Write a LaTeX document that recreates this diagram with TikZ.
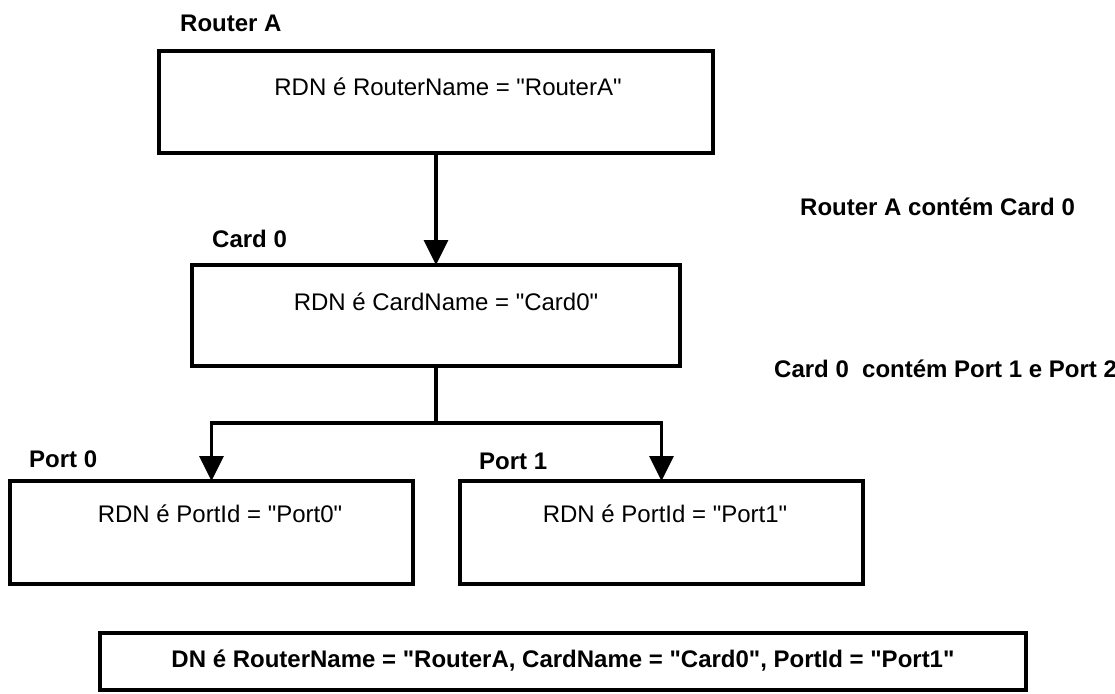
\documentclass[tikz,border=0pt]{standalone}
\usepackage{fontspec}
\setmainfont{Liberation Sans}[Ligatures=TeXOff]
\usetikzlibrary{arrows.meta}
\begin{document}
\begin{tikzpicture}[x=1pt,y=-1pt,
  box/.style={draw=black, line width=3.5pt, line join=miter, rectangle, inner sep=0pt, outer sep=0pt, anchor=north west},
  txt/.style={font=\fontsize{24}{28}\selectfont, inner sep=0pt, anchor=base},
  lbl/.style={font=\fontsize{24}{28}\selectfont\bfseries, inner sep=0pt, anchor=base west},
  line/.style={draw=black, line width=3.5pt, line join=miter},
  conn/.style={line, -{Triangle[width=24pt,length=25pt]}}]
\useasboundingbox (0,0) rectangle (1115,693);
% boxes
\node[box, minimum width=554pt, minimum height=102pt] (ra) at (159,51) {};
\node[box, minimum width=488pt, minimum height=101pt] (cb) at (192,265) {};
\node[box, minimum width=403pt, minimum height=103pt] (p0) at (10,481) {};
\node[box, minimum width=403pt, minimum height=103pt] (p1) at (460,481) {};
\node[box, minimum width=926pt, minimum height=57pt] (dn) at (100,633) {};
% box texts
\node[txt] (rat) at (448,95) {RDN é RouterName = "RouterA"};
\node[txt] (cbt) at (446,310) {RDN é CardName = "Card0"};
\node[txt] (p0t) at (220,522) {RDN é PortId = "Port0"};
\node[txt] (p1t) at (665,522) {RDN é PortId = "Port1"};
\node[txt, font=\fontsize{24}{28}\selectfont\bfseries] (dnt) at (563,667) {DN é RouterName = "RouterA, CardName = "Card0", PortId = "Port1"};
% labels
\node[lbl] (ral) at (180,32) {Router A};
\node[lbl] (cbl) at (212,247) {Card 0};
\node[lbl] (p0l) at (29,467) {Port 0};
\node[lbl] (p1l) at (479,469) {Port 1};
\node[lbl] (r1) at (800,215) {Router A contém Card 0};
\node[lbl] (r2) at (774,377) {Card 0\ \ contém Port 1 e Port 2};
% connectors
\coordinate (j) at (cb.south |- 0,423);
\draw[conn] (ra.south) -- (cb.north);
\draw[line] (cb.south) -- (j);
\draw[conn] (j) -| (p0.north);
\draw[conn] (j) -| (p1.north);
\end{tikzpicture}
\end{document}
